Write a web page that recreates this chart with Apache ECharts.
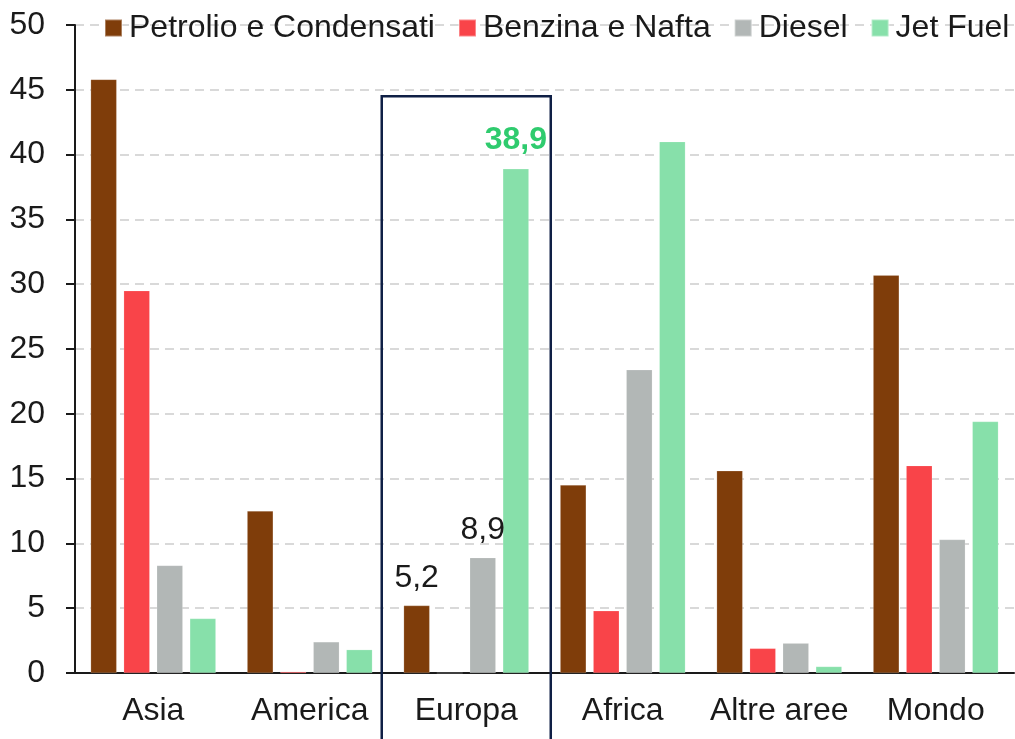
<!DOCTYPE html>
<html>
<head>
<meta charset="utf-8">
<script src="https://cdn.jsdelivr.net/npm/echarts@6/dist/echarts.min.js"></script>
<style>
html,body{margin:0;padding:0;background:#fff;}
#c{width:1015px;height:739px;}
</style>
</head>
<body>
<div id="c"></div>
<script>
const categories = ['Asia', 'America', 'Europa', 'Africa', 'Altre aree', 'Mondo'];
const seriesNames = ['Petrolio e Condensati', 'Benzina e Nafta', 'Diesel', 'Jet Fuel'];
const petrolio = [45.8, 12.5, 5.2, 14.5, 15.6, 30.7];
const benzina = [29.5, 0.1, 0, 4.8, 1.9, 16.0];
const diesel = [8.3, 2.4, 8.9, 23.4, 2.3, 10.3];
const jetFuel = [4.2, 1.8, 38.9, 41.0, 0.5, 19.4];
const yTicks = [0, 5, 10, 15, 20, 25, 30, 35, 40, 45, 50];
const highlightCategory = 'Europa';
const highlightTop = 44.5;
// labelled points: [series index, category, weight]
const labelled = [[0, 'Europa', 'normal'], [2, 'Europa', 'normal'], [3, 'Europa', 'bold']];

const colors = ['#7F3D0A', '#F94449', '#B2B7B6', '#87E0AA'];
const allData = [petrolio, benzina, diesel, jetFuel];
const FONT = 'Liberation Sans, Arial, sans-serif';
const FS = 32;
const fmt = v => String(v.toFixed(1)).replace('.', ',');

const series = allData.map((arr, si) => ({
  name: seriesNames[si],
  type: 'bar',
  barGap: '27%',
  barCategoryGap: '20%',
  itemStyle: { color: colors[si], borderColor: 'rgba(255,255,255,0.35)', borderWidth: 0.5 },
  data: arr.map((v, ci) => {
    const lab = labelled.find(l => l[0] === si && l[1] === categories[ci]);
    if (!lab) return v;
    const bold = lab[2] === 'bold';
    return {
      value: v,
      label: {
        show: true, position: 'top', distance: bold ? 13 : 11,
        formatter: () => fmt(v),
        fontSize: FS, fontFamily: FONT,
        fontWeight: bold ? 'bold' : 'normal',
        color: bold ? '#2FCB6E' : '#1a1a1a'
      }
    };
  })
}));

const chart = echarts.init(document.getElementById('c'), null, { renderer: 'canvas' });
chart.setOption({
  animation: false,
  color: colors,
  textStyle: { fontFamily: FONT },
  legend: {
    top: 12, left: 104, padding: 0, width: 910,
    itemWidth: 17, itemHeight: 17, itemGap: 23,
    icon: 'rect',
    textStyle: { fontSize: FS, color: '#1a1a1a', fontFamily: FONT, padding: [0, 0, 0, 2] },
    data: seriesNames
  },
  grid: { left: 75, right: 1, top: 25, bottom: 66, containLabel: false },
  xAxis: {
    type: 'category',
    data: categories,
    axisLine: { lineStyle: { color: '#1a1a1a', width: 2 } },
    axisTick: { show: false },
    axisLabel: { fontSize: FS, color: '#1a1a1a', margin: 22, fontFamily: FONT, interval: 0 }
  },
  yAxis: {
    type: 'value',
    min: yTicks[0], max: yTicks[yTicks.length - 1], interval: yTicks[1] - yTicks[0],
    axisLine: { show: true, lineStyle: { color: '#1a1a1a', width: 2 } },
    axisTick: { show: true, length: 9, lineStyle: { color: '#1a1a1a', width: 2 } },
    axisLabel: { fontSize: FS, color: '#1a1a1a', margin: 30, fontFamily: FONT },
    splitLine: { show: true, lineStyle: { color: '#D9D9D9', type: [9, 6], width: 2 } }
  },
  series: series
});

function drawHighlight() {
  const idx = categories.indexOf(highlightCategory);
  const c = chart.convertToPixel({ xAxisIndex: 0 }, idx);
  const c1 = chart.convertToPixel({ xAxisIndex: 0 }, idx + 1);
  const catW = c1 - c;
  const top = chart.convertToPixel({ yAxisIndex: 0 }, highlightTop);
  const halfW = catW * 0.54;
  chart.setOption({
    graphic: [{
      type: 'rect', z: 100, silent: true,
      shape: { x: c - halfW, y: top, width: halfW * 2, height: chart.getHeight() - top + 20 },
      style: { fill: 'none', stroke: '#0F1F45', lineWidth: 2.5 }
    }]
  });
}
drawHighlight();
</script>
</body>
</html>
